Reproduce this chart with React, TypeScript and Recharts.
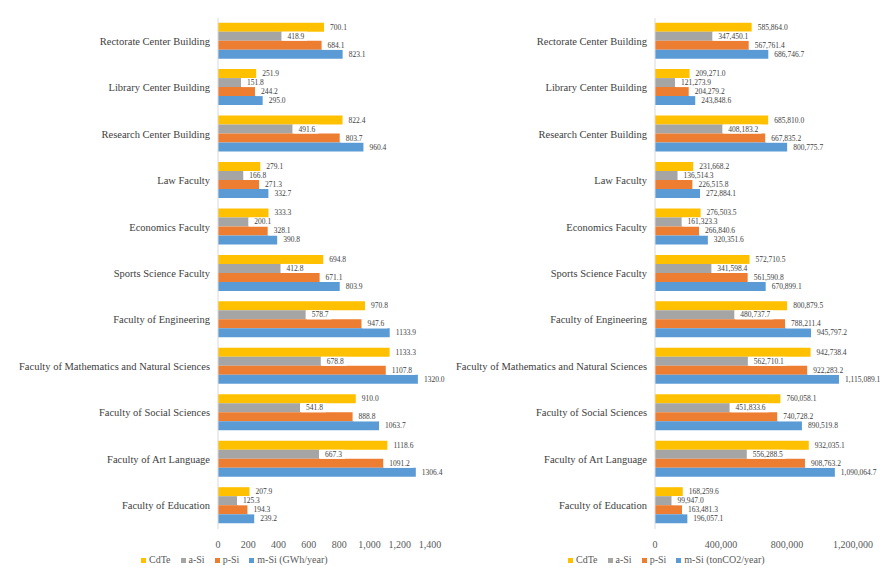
import React from 'react';
import { BarChart, Bar, XAxis, YAxis, LabelList } from 'recharts';

const categories = [
  'Rectorate Center Building',
  'Library Center Building',
  'Research Center Building',
  'Law Faculty',
  'Economics Faculty',
  'Sports Science Faculty',
  'Faculty of Engineering',
  'Faculty of Mathematics and Natural Sciences',
  'Faculty of Social Sciences',
  'Faculty of Art Language',
  'Faculty of Education',
];

// GWh/year
const gwhCdTe = [700.1, 251.9, 822.4, 279.1, 333.3, 694.8, 970.8, 1133.3, 910.0, 1118.6, 207.9];
const gwhASi = [418.9, 151.8, 491.6, 166.8, 200.1, 412.8, 578.7, 678.8, 541.8, 667.3, 125.3];
const gwhPSi = [684.1, 244.2, 803.7, 271.3, 328.1, 671.1, 947.6, 1107.8, 888.8, 1091.2, 194.3];
const gwhMSi = [823.1, 295.0, 960.4, 332.7, 390.8, 803.9, 1133.9, 1320.0, 1063.7, 1306.4, 239.2];

// tonCO2/year
const co2CdTe = [585864.0, 209271.0, 685810.0, 231668.2, 276503.5, 572710.5, 800879.5, 942738.4, 760058.1, 932035.1, 168259.6];
const co2ASi = [347450.1, 121273.9, 408183.2, 136514.3, 161323.3, 341598.4, 480737.7, 562710.1, 451833.6, 556288.5, 99947.0];
const co2PSi = [567761.4, 204279.2, 667835.2, 226515.8, 266840.6, 561590.8, 788211.4, 922283.2, 740728.2, 908763.2, 163481.3];
const co2MSi = [686746.7, 243848.6, 800775.7, 272884.1, 320351.6, 670899.1, 945797.2, 1115089.1, 890519.8, 1090064.7, 196057.1];

const gwhTicks = [0, 200, 400, 600, 800, 1000, 1200, 1400];
const co2Ticks = [0, 400000, 800000, 1200000];

const seriesNames = ['CdTe', 'a-Si', 'p-Si', 'm-Si'];
const COLORS = ['#FFC000', '#A5A5A5', '#ED7D31', '#5B9BD5'];
const KEYS = ['cdte', 'asi', 'psi', 'msi'];

const FONT = 'Liberation Serif, DejaVu Serif, serif';

const gwhData = categories.map((name, i) => ({
  name,
  cdte: gwhCdTe[i],
  asi: gwhASi[i],
  psi: gwhPSi[i],
  msi: gwhMSi[i],
}));

const co2Data = categories.map((name, i) => ({
  name,
  cdte: co2CdTe[i],
  asi: co2ASi[i],
  psi: co2PSi[i],
  msi: co2MSi[i],
}));

const fmtPlain = (v: number) => v.toFixed(1);
const fmtComma = (v: number) =>
  v.toLocaleString('en-US', { minimumFractionDigits: 1, maximumFractionDigits: 1 });
const fmtTick = (v: number) => v.toLocaleString('en-US');

function textWidth(s: string) {
  let w = 0;
  for (const c of s) w += c === '.' || c === ',' ? 1.9 : 3.75;
  return w;
}

const makeLabel = (fmt: (v: number) => string) => (props: any) => {
  const { x, y, width, height, value } = props;
  const text = fmt(Number(value));
  const tx = x + width + 6;
  const w = textWidth(text);
  return (
    <g>
      <rect x={x + width + 1} y={y} width={w + 8} height={height} fill="#ffffff" />
      <text
        x={tx}
        y={y + height / 2}
        dominantBaseline="central"
        fontSize={7.5}
        style={{ fontFamily: FONT }}
        fill="#404040"
      >
        {text}
      </text>
    </g>
  );
};

const CategoryTick = (props: any) => {
  const { x, y, payload } = props;
  return (
    <text
      x={x}
      y={y}
      textAnchor="end"
      dominantBaseline="central"
      fontSize={10.5}
      style={{ fontFamily: FONT }}
      fill="#404040"
    >
      {payload.value}
    </text>
  );
};

function Legend({ left, unit }: { left: number; unit: string }) {
  return (
    <div
      style={{
        position: 'absolute',
        left,
        top: 553,
        display: 'flex',
        gap: 10,
        fontFamily: FONT,
        fontSize: 10,
        color: '#595959',
        whiteSpace: 'nowrap',
        lineHeight: '14px',
      }}
    >
      {seriesNames.map((s, i) => (
        <span key={s} style={{ display: 'flex', alignItems: 'center' }}>
          <span
            style={{ width: 5, height: 5, background: COLORS[i], marginRight: 3, display: 'inline-block' }}
          />
          {i === 3 ? `${s} (${unit})` : s}
        </span>
      ))}
    </div>
  );
}

function Panel({
  data,
  ticks,
  max,
  yWidth,
  width,
  rightMargin,
  labelFmt,
}: {
  data: any[];
  ticks: number[];
  max: number;
  yWidth: number;
  width: number;
  rightMargin: number;
  labelFmt: (v: number) => string;
}) {
  const label = makeLabel(labelFmt);
  return (
    <BarChart
      width={width}
      height={576}
      data={data}
      layout="vertical"
      margin={{ top: 18, right: rightMargin, bottom: 27, left: 0 }}
      barCategoryGap="10%"
      barGap={0}
      style={{ fontFamily: FONT }}
    >
      <XAxis
        type="number"
        domain={[0, max]}
        ticks={ticks}
        tickFormatter={fmtTick}
        axisLine={false}
        tickLine={false}
        tickMargin={6}
        height={20}
        tick={{ fontSize: 10, fill: '#595959', style: { fontFamily: FONT } }}
        interval={0}
      />
      <YAxis
        type="category"
        dataKey="name"
        width={yWidth}
        axisLine={{ stroke: '#d9d9d9' }}
        tickLine={false}
        tick={<CategoryTick />}
        interval={0}
      />
      {KEYS.map((k, i) => (
        <Bar key={k} dataKey={k} fill={COLORS[i]} isAnimationActive={false}>
          <LabelList dataKey={k} content={label} />
        </Bar>
      ))}
    </BarChart>
  );
}

export default function App() {
  return (
    <div
      style={{
        position: 'absolute',
        left: 0,
        top: 0,
        width: 883,
        height: 576,
        background: '#ffffff',
        overflow: 'hidden',
        fontFamily: FONT,
      }}
    >
      <div style={{ position: 'absolute', left: 0, top: 0 }}>
        <Panel
          data={gwhData}
          ticks={gwhTicks}
          max={1400}
          yWidth={218}
          width={452}
          rightMargin={22}
          labelFmt={fmtPlain}
        />
      </div>
      <div style={{ position: 'absolute', left: 440, top: 0 }}>
        <Panel
          data={co2Data}
          ticks={co2Ticks}
          max={1200000}
          yWidth={215}
          width={443}
          rightMargin={30}
          labelFmt={fmtComma}
        />
      </div>
      <Legend left={141} unit="GWh/year" />
      <Legend left={568} unit="tonCO2/year" />
    </div>
  );
}
